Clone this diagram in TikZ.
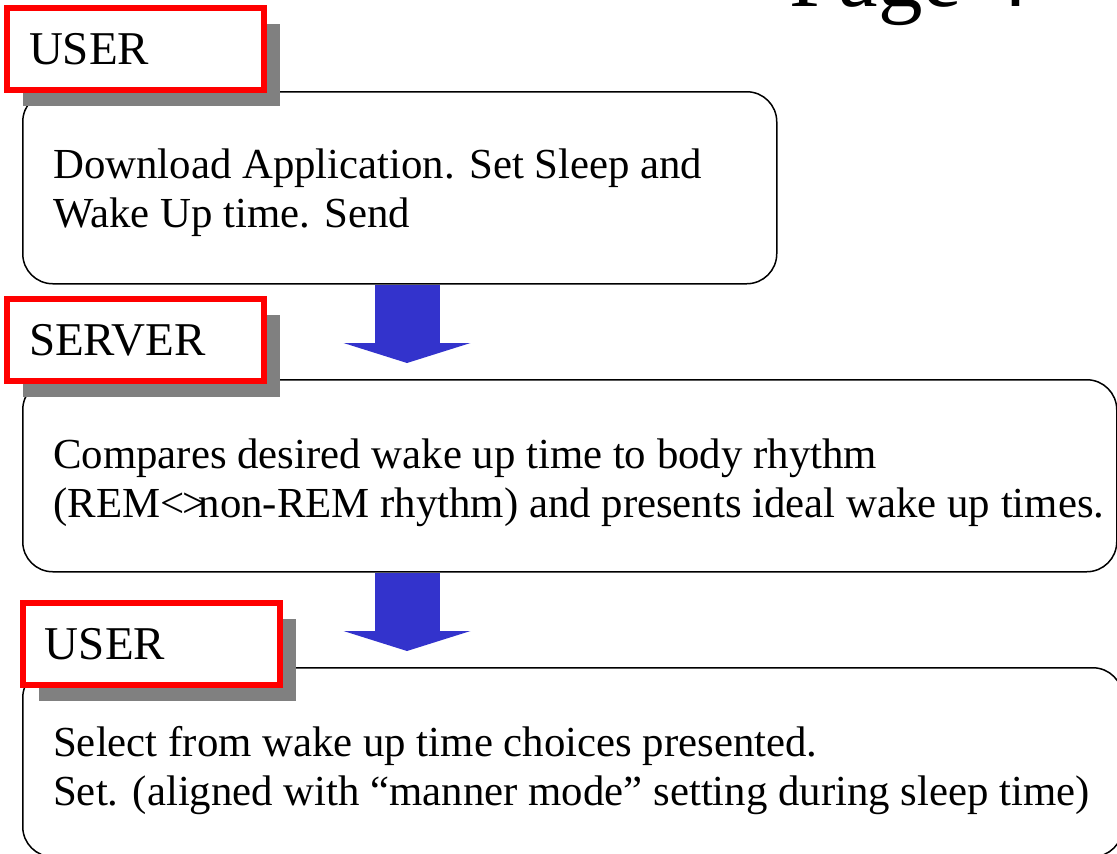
\documentclass[tikz,border=0pt]{standalone}
\usepackage{fontspec}
\setmainfont{Liberation Serif}
\usetikzlibrary{arrows.meta,shadows}
\definecolor{flowblue}{RGB}{51,51,204}

\begin{document}
\begin{tikzpicture}[x=1pt, y=1pt,
    % rounded box for each step
    stepBox/.style={draw=black, line width=1.5pt, rounded corners=30pt,
        anchor=north west, inner sep=0pt},
    stepText/.style={anchor=north west, inner sep=0pt, align=left,
        font=\fontsize{42.8}{49}\selectfont},
    % red role tag with a gray shadow
    roleTag/.style={draw=red, line width=6pt, fill=white, anchor=north west,
        minimum width=257pt, minimum height=82pt, text width=213pt, align=left,
        inner xsep=22pt, inner ysep=0pt, font=\fontsize{47}{56}\selectfont,
        drop shadow={shadow xshift=16pt, shadow yshift=-16pt, fill=gray, opacity=1}},
    % big blue arrow between steps
    flowArrow/.style={draw=flowblue, line width=65pt,
        -{Triangle[width=127pt, length=20pt, line width=0pt]}}
]
    \useasboundingbox (0,0) rectangle (1117,-854);

    % page title, cut at the top
    \node[anchor=base west, inner sep=0pt, font=\fontsize{89}{100}\selectfont] (page) at (789,-6) {Page 4};

    % the three steps
    \node[stepBox, minimum width=754pt, minimum height=192pt] (step1) at (22,-91) {};
    \node[stepBox, minimum width=1094pt, minimum height=192pt] (step2) at (22,-379) {};
    \node[stepBox, minimum width=1100pt, minimum height=189pt] (step3) at (22,-667) {};

    \node[stepText] (text1) at (53,-149) {Download Application. Set Sleep and\\Wake Up time. Send};
    \node[stepText] (text2) at (53,-439) {Compares desired wake up time to body rhythm\\(REM<\kern-0.04em>\kern-0.19em non-REM rhythm) and presents ideal wake up times.};
    \node[stepText] (text3) at (53,-726) {Select from wake up time choices presented.\\Set. (aligned with ``manner mode'' setting during sleep time)};

    % arrows from step to step
    \coordinate (tip1) at (407,-363);
    \coordinate (tip2) at (407,-651);
    \draw[flowArrow] (tip1 |- step1.south) -- (tip1);
    \draw[flowArrow] (tip2 |- step2.south) -- (tip2);

    % role tags
    \node[roleTag] (role1) at (4,-5) {USER};
    \node[roleTag] (role2) at (4,-296) {SERVER};
    \node[roleTag] (role3) at (20,-600) {USER};
\end{tikzpicture}
\end{document}
